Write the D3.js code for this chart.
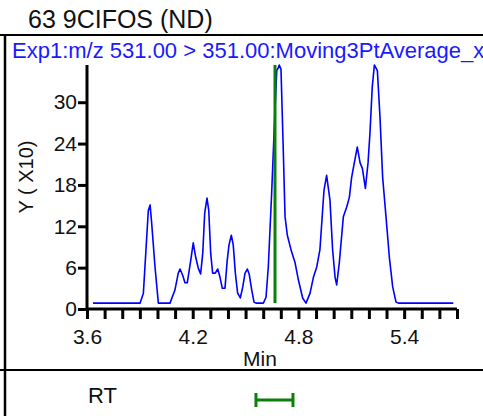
<!DOCTYPE html>
<html>
<head>
<meta charset="utf-8">
<script src="https://cdn.jsdelivr.net/npm/d3@7"></script>
<style>
  body { margin: 0; background: #fff; }
  svg { display: block; font-family: "Liberation Sans", Arial, sans-serif; }
</style>
</head>
<body>
<div id="chart"></div>
<script>
// retention time (min) and intensity (x10)
const times = [3.634, 3.901, 3.920, 3.948, 3.958, 3.967, 3.986, 4.005, 4.071, 4.099, 4.118, 4.128,
  4.143, 4.156, 4.169, 4.189, 4.203, 4.217, 4.232, 4.245, 4.257, 4.268, 4.281, 4.291, 4.302,
  4.313, 4.328, 4.342, 4.355, 4.368, 4.383, 4.396, 4.406, 4.419, 4.430, 4.442, 4.455, 4.470,
  4.484, 4.497, 4.510, 4.521, 4.535, 4.548, 4.559, 4.601, 4.616, 4.629, 4.648, 4.663, 4.677,
  4.684, 4.691, 4.701, 4.713, 4.724, 4.737, 4.760, 4.781, 4.800, 4.824, 4.843, 4.866, 4.885,
  4.904, 4.922, 4.945, 4.960, 4.979, 4.994, 5.008, 5.017, 5.032, 5.055, 5.074, 5.089, 5.102,
  5.115, 5.134, 5.150, 5.163, 5.180, 5.195, 5.206, 5.219, 5.231, 5.248, 5.263, 5.278, 5.297,
  5.316, 5.335, 5.354, 5.367, 5.679];
const intensity = [0.85, 0.85, 2.3, 14.3, 15.1, 12.5, 6.1, 0.85, 0.85, 2.75, 5.2, 5.8,
  4.9, 3.8, 3.8, 7.1, 9.6, 7.5, 5.9, 5.1, 8.1, 13.9, 16.1, 14.3, 8.1,
  5.2, 5.2, 5.8, 4.6, 3.0, 3.0, 7.1, 9.3, 10.7, 9.3, 5.2, 2.3, 1.6,
  3.2, 5.2, 5.8, 5.0, 2.75, 1.0, 0.85, 0.85, 1.7, 6.1, 16.8, 26.4, 34.6,
  34.9, 35.4, 34.8, 24.0, 13.4, 10.7, 8.4, 6.7, 4.2, 1.6, 0.85, 2.3, 4.6,
  6.1, 8.6, 17.2, 19.4, 15.8, 8.6, 4.6, 3.5, 6.7, 13.4, 14.8, 16.2, 19.1,
  20.9, 23.5, 21.2, 20.4, 17.5, 21.2, 25.5, 32.2, 35.4, 34.6, 27.8, 19.1, 13.4,
  7.5, 3.2, 1.0, 0.85, 0.85];

const xTicks = [3.6, 3.7, 3.8, 3.9, 4.0, 4.1, 4.2, 4.3, 4.4, 4.5, 4.6, 4.7, 4.8, 4.9, 5.0,
  5.1, 5.2, 5.3, 5.4, 5.5, 5.6, 5.7];
const xLabels = [3.6, 4.2, 4.8, 5.4];
const yTicks = [0, 6, 12, 18, 24, 30];

const rtLine = 4.667;          // expected RT marker
const rtWindow = [4.559, 4.769];

const titleText = '63 9CIFOS (ND)';
const traceText = 'Exp1:m/z 531.00 > 351.00:Moving3PtAverage_x';

const width = 483, height = 416;
const svg = d3.select('#chart').append('svg')
  .attr('width', width)
  .attr('height', height);

const x = d3.scaleLinear().domain([3.6, 5.7]).range([87, 457]);
const y = d3.scaleLinear().domain([0, 35.4]).range([309, 65]);

// frame lines
svg.append('line').attr('x1', 0).attr('x2', width).attr('y1', 35).attr('y2', 35)
  .attr('stroke', '#000').attr('stroke-width', 2);
svg.append('line').attr('x1', 0).attr('x2', width).attr('y1', 370).attr('y2', 370)
  .attr('stroke', '#000').attr('stroke-width', 2);
svg.append('line').attr('x1', 5).attr('x2', 5).attr('y1', 35).attr('y2', height)
  .attr('stroke', '#000').attr('stroke-width', 2.5);

// titles
svg.append('text').attr('x', 28).attr('y', 28)
  .attr('font-size', 25).attr('fill', '#111').text(titleText);
svg.append('text').attr('x', 12).attr('y', 58)
  .attr('font-size', 22).attr('fill', '#1a1aff').text(traceText);

// axes
const xAxis = svg.append('g')
  .attr('transform', `translate(0,${y(0)})`)
  .call(d3.axisBottom(x).tickValues(xTicks).tickSize(10)
    .tickFormat(d => xLabels.some(v => Math.abs(v - d) < 1e-6) ? d3.format('.1f')(d) : ''));
xAxis.select('.domain').attr('stroke-width', 3).attr('d', `M${x(3.6)},0H${x(5.7)}`);
xAxis.selectAll('.tick line').attr('stroke-width', 3);
xAxis.selectAll('.tick text').attr('font-size', 21).attr('dy', '1.05em').attr('fill', '#111')
  .attr('font-family', '"Liberation Sans", Arial, sans-serif');

const yAxis = svg.append('g')
  .attr('transform', `translate(${x(3.6)},0)`)
  .call(d3.axisLeft(y).tickValues(yTicks).tickSize(9).tickPadding(1));
yAxis.select('.domain').attr('stroke-width', 3).attr('d', `M0,${y(35.4)}V${y(0)}`);
yAxis.selectAll('.tick line').attr('stroke-width', 3);
yAxis.selectAll('.tick text').attr('font-size', 21).attr('fill', '#111')
  .attr('font-family', '"Liberation Sans", Arial, sans-serif');

svg.append('text').attr('x', 260).attr('y', 366)
  .attr('text-anchor', 'middle').attr('font-size', 21).attr('fill', '#111').text('Min');
svg.append('text')
  .attr('transform', 'translate(33,177) rotate(-90)')
  .attr('text-anchor', 'middle').attr('font-size', 20).attr('fill', '#111').text('Y ( X10)');

// trace
const pts = times.map((t, i) => [t, intensity[i]]);
svg.append('path')
  .datum(pts)
  .attr('fill', 'none')
  .attr('stroke', '#0000ff')
  .attr('stroke-width', 1.6)
  .attr('stroke-linejoin', 'round')
  .attr('d', d3.line().x(d => x(d[0])).y(d => y(d[1])));

// RT marker
svg.append('line')
  .attr('x1', x(rtLine)).attr('x2', x(rtLine))
  .attr('y1', y(35.4)).attr('y2', y(0.85))
  .attr('stroke', '#0a800a').attr('stroke-width', 3);

// RT window row
svg.append('text').attr('x', 88).attr('y', 403)
  .attr('font-size', 22).attr('fill', '#111').text('RT');
const rt = svg.append('g').attr('stroke', '#0a800a').attr('stroke-width', 3);
rt.append('line').attr('x1', x(rtWindow[0])).attr('x2', x(rtWindow[1])).attr('y1', 400).attr('y2', 400);
rtWindow.forEach(v => {
  rt.append('line').attr('x1', x(v)).attr('x2', x(v)).attr('y1', 393).attr('y2', 407);
});
</script>
</body>
</html>
